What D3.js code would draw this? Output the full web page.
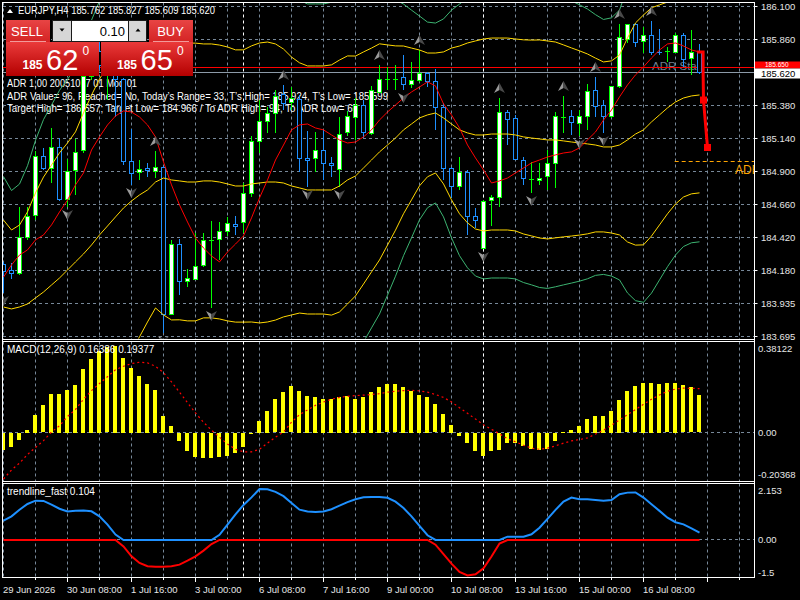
<!DOCTYPE html>
<html>
<head>
<meta charset="utf-8">
<script src="https://cdnjs.cloudflare.com/ajax/libs/d3/7.8.5/d3.min.js"></script>
<style>body{margin:0;background:#000}</style>
</head>
<body>
<script>
// ---- data (EURJPY H4) ----
var opens = [184.217,184.173,184.151,184.413,184.573,185.002,184.915,185.068,184.697,184.900,
185.046,185.584,185.766,185.664,185.839,185.562,184.966,184.886,184.915,184.900,
184.929,183.860,184.369,184.093,184.115,184.209,184.391,184.399,184.457,184.508,
184.522,184.733,185.111,185.257,185.315,185.460,185.395,185.417,184.988,184.988,
185.046,184.951,184.915,185.177,185.293,185.373,185.177,185.475,185.562,185.569,
185.577,185.526,185.555,185.606,185.548,185.359,184.915,184.784,184.886,184.566,
184.333,184.682,184.704,185.322,185.279,184.973,184.835,184.835,184.857,184.951,
185.286,185.293,185.242,185.293,185.489,185.373,185.293,185.511,185.853,185.962,
185.839,185.882,185.759,185.766,185.766,185.889,185.715,185.762];
var highs = [184.239,184.231,184.639,184.639,185.046,185.068,185.213,185.140,184.988,185.133,
185.620,185.817,185.853,185.889,185.882,185.577,185.206,184.980,184.959,185.046,
184.937,184.399,184.406,184.188,184.449,184.449,184.537,184.529,184.566,184.573,
184.813,185.155,185.417,185.366,185.489,185.526,185.511,185.453,185.191,185.184,
185.199,185.002,185.293,185.337,185.431,185.417,185.519,185.671,185.657,185.671,
185.744,185.693,185.780,185.620,185.642,185.395,184.929,185.002,184.908,184.631,
184.689,184.726,185.431,185.344,185.308,185.002,184.966,184.959,185.053,185.329,
185.446,185.344,185.344,185.533,185.584,185.417,185.511,185.969,185.962,185.977,
185.948,185.991,185.933,185.802,185.904,185.904,185.926,185.827];
var lows = [184.013,184.115,184.144,184.399,184.544,184.908,184.813,184.682,184.639,184.726,
185.031,185.562,185.635,185.417,185.293,184.944,184.799,184.835,184.857,184.849,
183.722,183.853,183.999,184.057,184.108,184.202,183.904,184.253,184.428,184.435,
184.449,184.711,185.031,185.177,185.177,185.344,185.344,184.893,184.784,184.893,
184.835,184.857,184.784,185.155,185.126,185.140,185.162,185.468,185.489,185.489,
185.489,185.504,185.548,185.511,185.199,184.835,184.704,184.762,184.435,184.486,
184.333,184.500,184.639,185.089,184.980,184.799,184.740,184.799,184.762,184.777,
185.177,185.162,185.155,185.199,185.293,185.177,185.286,185.504,185.831,185.802,
185.759,185.744,185.744,185.693,185.759,185.657,185.599,185.609];
var closes = [184.166,184.151,184.413,184.566,185.002,184.915,185.068,184.689,184.900,185.031,
185.584,185.766,185.664,185.839,185.562,184.966,184.879,184.908,184.900,184.929,
183.860,184.369,184.100,184.115,184.209,184.391,184.391,184.457,184.515,184.493,
184.733,185.111,185.257,185.315,185.439,185.395,185.424,184.988,184.973,185.046,
184.951,184.937,185.169,185.293,185.380,185.177,185.489,185.569,185.562,185.569,
185.526,185.555,185.606,185.548,185.359,184.915,184.784,184.886,184.566,184.537,
184.675,184.704,185.322,185.271,184.980,184.842,184.835,184.849,184.951,185.293,
185.286,185.249,185.293,185.475,185.373,185.293,185.511,185.868,185.962,185.831,
185.882,185.759,185.751,185.766,185.889,185.715,185.759,185.620];

var bbMid = [183.911,183.897,183.911,183.933,183.977,184.020,184.071,184.122,184.180,184.239,
184.297,184.362,184.435,184.500,184.566,184.631,184.682,184.726,184.762,184.820,
184.849,184.835,184.828,184.820,184.820,184.828,184.828,184.820,184.806,184.791,
184.791,184.806,184.813,184.820,184.820,184.813,184.791,184.777,184.762,184.762,
184.762,184.762,184.791,184.835,184.864,184.922,184.980,185.039,185.089,185.140,
185.199,185.242,185.286,185.308,185.322,185.286,185.242,185.199,185.177,185.162,
185.162,185.169,185.169,185.169,185.162,185.148,185.140,185.133,185.126,185.126,
185.119,185.111,185.104,185.097,185.089,185.075,185.075,185.089,185.126,185.169,
185.199,185.257,185.308,185.359,185.402,185.431,185.446,185.453];
var bbDev = [0.316,0.287,0.298,0.335,0.382,0.418,0.436,0.455,0.462,0.473,
0.513,0.545,0.567,0.582,0.582,0.567,0.545,0.516,0.480,0.458,
0.498,0.509,0.505,0.505,0.505,0.498,0.498,0.498,0.498,0.495,
0.495,0.502,0.509,0.509,0.502,0.487,0.469,0.455,0.451,0.451,
0.451,0.455,0.458,0.451,0.436,0.422,0.407,0.393,0.364,0.335,
0.305,0.276,0.247,0.225,0.218,0.240,0.276,0.305,0.327,0.342,
0.349,0.349,0.349,0.349,0.349,0.353,0.356,0.360,0.360,0.356,
0.349,0.342,0.335,0.327,0.316,0.309,0.313,0.327,0.371,0.404,
0.418,0.415,0.400,0.385,0.371,0.360,0.356,0.356];
var maFast = [184.129,184.217,184.289,184.326,184.399,184.435,184.508,184.602,184.689,184.799,
184.886,185.053,185.148,185.235,185.300,185.337,185.329,185.293,185.235,185.148,
184.966,184.799,184.653,184.529,184.413,184.340,184.282,184.239,184.311,184.369,
184.428,184.559,184.704,184.835,184.980,185.089,185.199,185.235,185.242,185.213,
185.199,185.162,185.126,185.104,185.111,185.148,185.199,185.271,185.329,185.380,
185.431,185.475,185.511,185.548,185.519,185.388,185.308,185.213,185.089,184.995,
184.908,184.813,184.828,184.849,184.886,184.922,184.959,184.980,185.002,185.017,
185.031,185.039,185.068,185.126,185.184,185.271,185.344,185.439,185.526,185.599,
185.657,185.722,185.780,185.824,185.831,185.809,185.780,185.766];

var macdMain = [-0.073,-0.061,-0.029,0.011,0.079,0.120,0.170,0.170,0.188,0.211,
0.280,0.325,0.360,0.376,0.381,0.330,0.284,0.249,0.216,0.188,
0.074,0.029,-0.035,-0.081,-0.106,-0.111,-0.108,-0.106,-0.099,-0.088,
-0.062,-0.006,0.052,0.097,0.147,0.179,0.204,0.185,0.162,0.157,
0.148,0.148,0.157,0.162,0.148,0.157,0.180,0.203,0.212,0.212,
0.203,0.185,0.166,0.157,0.125,0.080,0.034,-0.011,-0.043,-0.080,
-0.103,-0.080,-0.073,-0.043,-0.046,-0.058,-0.070,-0.073,-0.070,-0.035,
0.003,0.014,0.030,0.061,0.074,0.074,0.097,0.143,0.182,0.204,
0.220,0.220,0.216,0.217,0.220,0.208,0.200,0.16386];
var macdSignal = [-0.2037,-0.164,-0.134,-0.096,-0.065,-0.035,0.003,0.030,0.071,0.102,
0.147,0.185,0.216,0.246,0.277,0.292,0.304,0.310,0.307,0.292,
0.264,0.223,0.178,0.132,0.087,0.046,0.011,-0.020,-0.050,-0.073,
-0.084,-0.084,-0.073,-0.046,-0.020,0.003,0.046,0.079,0.100,0.120,
0.135,0.147,0.155,0.160,0.163,0.165,0.168,0.172,0.178,0.182,
0.185,0.186,0.184,0.178,0.168,0.155,0.135,0.110,0.085,0.060,
0.035,0.015,-0.005,-0.027,-0.040,-0.055,-0.068,-0.073,-0.068,-0.058,
-0.046,-0.036,-0.030,-0.023,-0.006,0.011,0.033,0.056,0.079,0.102,
0.125,0.147,0.166,0.182,0.192,0.196,0.195,0.19377];

var trendUp = [0.82,1.00,1.28,1.52,1.66,1.65,1.49,1.32,1.20,1.23,
1.24,1.21,1.00,0.65,0.23,0,0,0,0,0,
0,0,0,0,0,0,0,0.22,0.65,1.08,
1.48,1.80,2.153,2.14,2.03,1.85,1.56,1.28,1.20,1.18,
1.20,1.30,1.45,1.60,1.72,1.80,1.82,1.82,1.78,1.62,
1.35,1.00,0.60,0.20,0,0,0,0,0,0,
0,0,0,0.14,0.14,0.14,0.24,0.52,0.89,1.27,
1.62,1.79,1.72,1.72,1.69,1.66,1.69,1.93,2.00,2.01,
1.79,1.51,1.23,0.94,0.75,0.66,0.49,0.31];
var trendDown = [0,0,0,0,0,0,0,0,0,0,
0,0,0,0,0,-0.27,-0.69,-0.97,-1.11,-1.13,
-1.13,-1.11,-1.04,-0.87,-0.69,-0.45,-0.17,0,0,0,
0,0,0,0,0,0,0,0,0,0,
0,0,0,0,0,0,0,0,0,0,
0,0,0,0,-0.20,-0.60,-1.00,-1.35,-1.50,-1.45,
-1.20,-0.70,-0.15,0,0,0,0,0,0,0,
0,0,0,0,0,0,0,0,0,0,
0,0,0,0,0,0,0,0];

var fractalUp = [19, 35, 47, 52, 62, 70, 74, 77, 81];
var fractalDown = [0, 8, 16, 20, 26, 38, 42, 50, 60, 66, 72, 75];
var weekStarts = [30, 60];

var timeLabels = ['29 Jun 2026','30 Jun 08:00','1 Jul 16:00','3 Jul 00:00','6 Jul 08:00','7 Jul 16:00',
  '9 Jul 00:00','10 Jul 08:00','13 Jul 16:00','15 Jul 00:00','16 Jul 08:00'];
var priceTicks = [186.100,185.860,185.620,185.380,185.140,184.900,184.660,184.420,184.180,183.935,183.695];

var bid = 185.620, ask = 185.650;
var adrLow = 184.966;
var adrPathBars = [86.7, 87.45, 87.45, 87.5, 88.0];
var adrPathPrices = [185.766, 185.766, 185.620, 185.416, 185.071];

// ---- layout ----
var width = 800, height = 600;
var font = "'Liberation Sans', Arial, sans-serif";
var gridColor = '#778899';
var axisX = 754.5;

var svg = d3.select('body').append('svg')
  .attr('width', width).attr('height', height)
  .style('display', 'block').style('background', '#000');

var x = d3.scaleLinear().domain([0, 88]).range([3.5, 707.5]);
var yMain = d3.scaleLinear().domain([183.695, 186.100]).range([336.7, 6]);
var yMacd = d3.scaleLinear().domain([-0.20368, 0.38122]).range([479, 346]);
var yTrend = d3.scaleLinear().domain([-1.5, 2.153]).range([575.5, 489]);

var panels = [
  { id: 'clipMain', top: 2.5, bottom: 339 },
  { id: 'clipMacd', top: 341.5, bottom: 481 },
  { id: 'clipTrend', top: 483.5, bottom: 577.5 }
];

function crisp(v) { return Math.round(v - 0.5) + 0.5; }

var defs = svg.append('defs');
panels.forEach(function (p) {
  defs.append('clipPath').attr('id', p.id)
    .append('rect').attr('x', 3).attr('y', p.top + 0.5)
    .attr('width', axisX - 3.5).attr('height', p.bottom - p.top - 1);
});
var grad = defs.append('linearGradient').attr('id', 'redGrad')
  .attr('x1', 0).attr('y1', 0).attr('x2', 0).attr('y2', 1);
grad.append('stop').attr('offset', '0%').attr('stop-color', '#ea3a3a');
grad.append('stop').attr('offset', '100%').attr('stop-color', '#b40000');
var grad2 = defs.append('linearGradient').attr('id', 'btnGrad')
  .attr('x1', 0).attr('y1', 0).attr('x2', 0).attr('y2', 1);
grad2.append('stop').attr('offset', '0%').attr('stop-color', '#e84444');
grad2.append('stop').attr('offset', '100%').attr('stop-color', '#d42424');

// ---- grid ----
var gridBars = d3.range(0, 93, 4);
panels.forEach(function (p) {
  svg.append('g').selectAll('line').data(gridBars).join('line')
    .attr('x1', function (d) { return crisp(x(d)); })
    .attr('x2', function (d) { return crisp(x(d)); })
    .attr('y1', p.top).attr('y2', p.bottom)
    .attr('stroke', gridColor).attr('stroke-dasharray', '3,3');
  svg.append('g').selectAll('line').data(weekStarts).join('line')
    .attr('x1', function (d) { return crisp(x(d)); })
    .attr('x2', function (d) { return crisp(x(d)); })
    .attr('y1', p.top).attr('y2', p.bottom)
    .attr('stroke', '#ffffff').attr('stroke-dasharray', '3,3');
});
svg.append('g').selectAll('line').data(priceTicks).join('line')
  .attr('x1', 3).attr('x2', axisX)
  .attr('y1', function (d) { return crisp(yMain(d)); })
  .attr('y2', function (d) { return crisp(yMain(d)); })
  .attr('stroke', gridColor).attr('stroke-dasharray', '3,3');
svg.append('line').attr('x1', 3).attr('x2', axisX)
  .attr('y1', crisp(yMacd(0))).attr('y2', crisp(yMacd(0)))
  .attr('stroke', gridColor).attr('stroke-dasharray', '3,3');
svg.append('line').attr('x1', 3).attr('x2', axisX)
  .attr('y1', crisp(yTrend(0))).attr('y2', crisp(yTrend(0)))
  .attr('stroke', gridColor).attr('stroke-dasharray', '3,3');

// ---- main panel ----
var gMain = svg.append('g').attr('clip-path', 'url(#clipMain)');

// ADR info text sits behind the price chart
var adrLines = [
  { t: 'ADR 1,00 20051017 01 Mod 01', y: 87, w: 130 },
  { t: 'ADR Value= 96, Reached= No, Today\u2019s Range= 33, T\u2019s High= 185.924, T\u2019s Low= 185.599', y: 100, w: 381 },
  { t: 'Target High= 186.557; Target Low= 184.966 / To ADR High= 94, To ADR Low= 65', y: 111.5, w: 351 }
];
gMain.selectAll('text.adr').data(adrLines).join('text').attr('class', 'adr')
  .attr('x', 7).attr('y', function (d) { return d.y; })
  .attr('textLength', function (d) { return d.w; }).attr('lengthAdjust', 'spacingAndGlyphs')
  .attr('fill', '#ffffff').style('font', '10px ' + font)
  .text(function (d) { return d.t; });

gMain.append('text').attr('x', 652).attr('y', 70)
  .attr('fill', '#6f7f8f').style('font', '11.5px ' + font).text('ADR Start');

// ask / bid lines
gMain.append('line').attr('x1', 3).attr('x2', axisX)
  .attr('y1', crisp(yMain(ask))).attr('y2', crisp(yMain(ask))).attr('stroke', '#ff0000');
gMain.append('line').attr('x1', 3).attr('x2', axisX)
  .attr('y1', crisp(yMain(bid))).attr('y2', crisp(yMain(bid))).attr('stroke', '#8c9aa8');

// candles
var candles = d3.range(opens.length).map(function (i) {
  return { i: i, o: opens[i], h: highs[i], l: lows[i], c: closes[i] };
});
function candleColor(d) { return d.c >= d.o ? '#00ff00' : '#1e90ff'; }
gMain.append('g').selectAll('line').data(candles).join('line')
  .attr('x1', function (d) { return x(d.i); })
  .attr('x2', function (d) { return x(d.i); })
  .attr('y1', function (d) { return Math.round(yMain(d.h)); })
  .attr('y2', function (d) { return Math.round(yMain(d.l)); })
  .attr('stroke', candleColor);
var bodies = candles.filter(function (d) {
  return Math.abs(yMain(d.o) - yMain(d.c)) >= 1.5;
});
var dojis = candles.filter(function (d) {
  return Math.abs(yMain(d.o) - yMain(d.c)) < 1.5;
});
gMain.append('g').selectAll('rect').data(bodies).join('rect')
  .attr('x', function (d) { return x(d.i) - 2; })
  .attr('y', function (d) { return crisp(yMain(Math.max(d.o, d.c))); })
  .attr('width', 4)
  .attr('height', function (d) {
    return Math.round(yMain(Math.min(d.o, d.c)) - yMain(Math.max(d.o, d.c)));
  })
  .attr('fill', function (d) { return d.c >= d.o ? '#ffffff' : '#000000'; })
  .attr('stroke', candleColor);
gMain.append('g').selectAll('line').data(dojis).join('line')
  .attr('x1', function (d) { return x(d.i) - 2.5; })
  .attr('x2', function (d) { return x(d.i) + 2.5; })
  .attr('y1', function (d) { return crisp(yMain(d.o)); })
  .attr('y2', function (d) { return crisp(yMain(d.o)); })
  .attr('stroke', candleColor);

// bollinger bands and fast MA
var mainLine = d3.line().x(function (d, i) { return x(i); }).y(function (d) { return yMain(d); });
var bands = [{ k: 3, c: '#3cb371' }, { k: 2, c: '#ffd700' }, { k: 0, c: '#ffd700' },
             { k: -2, c: '#ffd700' }, { k: -3, c: '#3cb371' }];
gMain.append('g').selectAll('path').data(bands).join('path')
  .attr('d', function (b) { return mainLine(bbMid.map(function (m, i) { return m + b.k * bbDev[i]; })); })
  .attr('fill', 'none').attr('stroke', function (b) { return b.c; }).attr('stroke-width', 1);
gMain.append('path').datum(maFast).attr('d', mainLine)
  .attr('fill', 'none').attr('stroke', '#ff0000').attr('stroke-width', 1);

// fractal arrows
function arrow(g, bars, up) {
  var s = up ? 1 : -1;
  var a = g.append('g').selectAll('g').data(bars).join('g')
    .attr('transform', function (b) {
      var yy = up ? yMain(highs[b]) - 10 : yMain(lows[b]) + 8;
      return 'translate(' + x(b) + ',' + yy + ')';
    });
  a.append('path').attr('d', 'M0,' + (-5 * s) + 'L0,' + (2 * s) + 'L-5.5,' + (5 * s) + 'Z').attr('fill', '#9a9a9a');
  a.append('path').attr('d', 'M0,' + (-5 * s) + 'L5.5,' + (5 * s) + 'L0,' + (2 * s) + 'Z').attr('fill', '#4a4a4a');
}
arrow(gMain, fractalUp, true);
arrow(gMain, fractalDown, false);

// ADR target line and projection
gMain.append('line').attr('x1', x(83.9)).attr('x2', axisX)
  .attr('y1', crisp(yMain(adrLow))).attr('y2', crisp(yMain(adrLow)))
  .attr('stroke', '#ffa500').attr('stroke-dasharray', '4,3');
gMain.append('text').attr('x', 735).attr('y', 174)
  .attr('fill', '#ffa500').style('font', '12px ' + font).text('ADR');
var adrPts = adrPathBars.map(function (b, i) { return [x(b), yMain(adrPathPrices[i])]; });
gMain.append('path').datum(adrPts).attr('d', d3.line())
  .attr('fill', 'none').attr('stroke', '#ff0000').attr('stroke-width', 3);
gMain.selectAll('rect.adrpt').data(adrPts.slice(3)).join('rect').attr('class', 'adrpt')
  .attr('x', function (d) { return d[0] - 3.5; }).attr('y', function (d) { return d[1] - 3.5; })
  .attr('width', 7).attr('height', 7).attr('fill', '#ff0000');

// ---- MACD panel ----
var gMacd = svg.append('g').attr('clip-path', 'url(#clipMacd)');
gMacd.append('g').selectAll('rect').data(macdMain).join('rect')
  .attr('x', function (d, i) { return Math.floor(x(i)) - 2; })
  .attr('width', 4)
  .attr('y', function (d) { return Math.round(Math.min(yMacd(d), yMacd(0))); })
  .attr('height', function (d) { return Math.max(1, Math.round(Math.abs(yMacd(d) - yMacd(0)))); })
  .attr('fill', '#ffff00');
gMacd.append('path').datum(macdSignal)
  .attr('d', d3.line().x(function (d, i) { return x(i); }).y(function (d) { return yMacd(d); }))
  .attr('fill', 'none').attr('stroke', '#ff0000').attr('stroke-width', 1.2).attr('stroke-dasharray', '2,3');
svg.append('text').attr('x', 7).attr('y', 353).attr('fill', '#ffffff')
  .style('font', '10px ' + font).text('MACD(12,26,9) 0.16386 0.19377');

// ---- trendline panel ----
var gTrend = svg.append('g').attr('clip-path', 'url(#clipTrend)');
var trendLine = d3.line().x(function (d, i) { return x(i); }).y(function (d) { return yTrend(d); });
gTrend.append('path').datum(trendDown).attr('d', trendLine)
  .attr('fill', 'none').attr('stroke', '#ff0000').attr('stroke-width', 2);
gTrend.append('path').datum(trendUp).attr('d', trendLine)
  .attr('fill', 'none').attr('stroke', '#1e90ff').attr('stroke-width', 2);
svg.append('text').attr('x', 7).attr('y', 495).attr('fill', '#ffffff')
  .style('font', '10px ' + font).text('trendline_fast 0.104');

// ---- borders ----
var border = svg.append('g').attr('stroke', '#ffffff').attr('fill', 'none');
border.append('line').attr('x1', 2.5).attr('x2', 2.5).attr('y1', 2).attr('y2', 578);
border.append('line').attr('x1', axisX).attr('x2', axisX).attr('y1', 2).attr('y2', 578);
[2.5, 339.5, 341.5, 481.5, 483.5, 577.5].forEach(function (yy) {
  border.append('line').attr('x1', 2).attr('x2', axisX + 0.5).attr('y1', yy).attr('y2', yy);
});

// ---- price axis ----
var axisText = '#e6e6e6';
var pa = svg.append('g');
pa.selectAll('line').data(priceTicks).join('line')
  .attr('x1', axisX).attr('x2', axisX + 3)
  .attr('y1', function (d) { return crisp(yMain(d)); })
  .attr('y2', function (d) { return crisp(yMain(d)); })
  .attr('stroke', '#ffffff');
pa.selectAll('text').data(priceTicks.filter(function (d) { return d !== bid; })).join('text')
  .attr('x', 761).attr('y', function (d) { return yMain(d) + 3.5; })
  .attr('fill', axisText).style('font', '9.5px ' + font)
  .text(function (d) { return d.toFixed(3); });
// ask label peeks out above the bid label, as in the terminal
pa.append('rect').attr('x', 755).attr('y', 61.5).attr('width', 45).attr('height', 7).attr('fill', '#ff0000');
pa.append('text').attr('x', 765).attr('y', 67.2).attr('fill', '#ffffff')
  .style('font', '6.5px ' + font).text(ask.toFixed(3));
pa.append('rect').attr('x', 755).attr('y', 68.5).attr('width', 45).attr('height', 10).attr('fill', '#ffffff');
pa.append('text').attr('x', 761).attr('y', 77).attr('fill', '#000000')
  .style('font', '9.5px ' + font).text(bid.toFixed(3));

var macdTicks = [{ t: '0.38122', y: 352 }, { t: '0.00', y: yMacd(0) + 3.5 }, { t: '-0.20368', y: 478 }];
svg.append('g').selectAll('text').data(macdTicks).join('text')
  .attr('x', 758).attr('y', function (d) { return d.y; })
  .attr('fill', axisText).style('font', '9.5px ' + font)
  .text(function (d) { return d.t; });
var trendTicks = [{ t: '2.153', y: 494 }, { t: '0.00', y: yTrend(0) + 3.5 }, { t: '-1.5', y: 576 }];
svg.append('g').selectAll('text').data(trendTicks).join('text')
  .attr('x', 758).attr('y', function (d) { return d.y; })
  .attr('fill', axisText).style('font', '9.5px ' + font)
  .text(function (d) { return d.t; });

// ---- time axis ----
var ta = svg.append('g');
ta.selectAll('line.minor').data(d3.range(4, 93, 4)).join('line').attr('class', 'minor')
  .attr('x1', function (d) { return crisp(x(d)); }).attr('x2', function (d) { return crisp(x(d)); })
  .attr('y1', 578).attr('y2', function (d) { return d % 8 === 0 ? 582 : 580; })
  .attr('stroke', '#ffffff');
ta.selectAll('text').data(timeLabels).join('text')
  .attr('x', function (d, i) { return i === 0 ? 3 : crisp(x(i * 8)) - 0.5; })
  .attr('y', 593)
  .attr('fill', axisText).style('font', '9.5px ' + font)
  .text(function (d) { return d; });

// ---- one-click trading panel ----
var tp = svg.append('g');
tp.append('path').attr('d', 'M7,13 L10,9 L13,13 Z').attr('fill', '#ffffff');
tp.append('text').attr('x', 18).attr('y', 14).attr('fill', '#ffffff')
  .attr('textLength', 197).attr('lengthAdjust', 'spacingAndGlyphs')
  .style('font', '10.5px ' + font).text('EURJPY,H4  185.762 185.827 185.609 185.620');

var sides = [
  { label: 'SELL', bx: 6, px: 6, pw: 93, big: '62', lx: 27, dx: 22.5 },
  { label: 'BUY', bx: 149, px: 101, pw: 92, big: '65', lx: 170.5, dx: 117 }
];
var sg = tp.selectAll('g.side').data(sides).join('g').attr('class', 'side');
sg.append('rect').attr('x', function (d) { return d.bx; }).attr('y', 20)
  .attr('width', 44).attr('height', 22).attr('fill', 'url(#btnGrad)');
sg.append('rect').attr('x', function (d) { return d.px; }).attr('y', 42)
  .attr('width', function (d) { return d.pw; }).attr('height', 34).attr('fill', 'url(#redGrad)');
sg.append('line').attr('x1', function (d) { return d.bx + 4; }).attr('x2', function (d) { return d.bx + 40; })
  .attr('y1', 41.5).attr('y2', 41.5).attr('stroke', '#f29a9a');
sg.append('text').attr('x', function (d) { return d.lx; }).attr('y', 36)
  .attr('text-anchor', 'middle').attr('fill', '#ffffff').style('font', '13px ' + font)
  .text(function (d) { return d.label; });
sg.append('text').attr('x', function (d) { return d.dx; }).attr('y', 69)
  .attr('fill', '#ffffff').style('font', 'bold 12px ' + font).text('185');
sg.append('text').attr('x', function (d) { return d.dx + 23.5; }).attr('y', 70)
  .attr('fill', '#ffffff').style('font', '29px ' + font)
  .text(function (d) { return d.big; });
sg.append('text').attr('x', function (d) { return d.dx + 60; }).attr('y', 55)
  .attr('fill', '#ffffff').style('font', '12px ' + font).text('0');

// lot spinner
tp.append('rect').attr('x', 52).attr('y', 20).attr('width', 95).attr('height', 22).attr('fill', '#1a1a1a');
tp.append('rect').attr('x', 53).attr('y', 21).attr('width', 18).attr('height', 20).attr('fill', '#d6d6d6');
tp.append('rect').attr('x', 72).attr('y', 21).attr('width', 56).attr('height', 20).attr('fill', '#ffffff');
tp.append('rect').attr('x', 129).attr('y', 21).attr('width', 17).attr('height', 20).attr('fill', '#d6d6d6');
tp.append('path').attr('d', 'M59.5,28.5 L64.5,28.5 L62,31.5 Z').attr('fill', '#000');
tp.append('path').attr('d', 'M135.5,31.5 L140.5,31.5 L138,28.5 Z').attr('fill', '#000');
tp.append('text').attr('x', 125).attr('y', 36).attr('text-anchor', 'end')
  .attr('fill', '#000').style('font', '13px ' + font).text('0.10');
</script>
</body>
</html>
